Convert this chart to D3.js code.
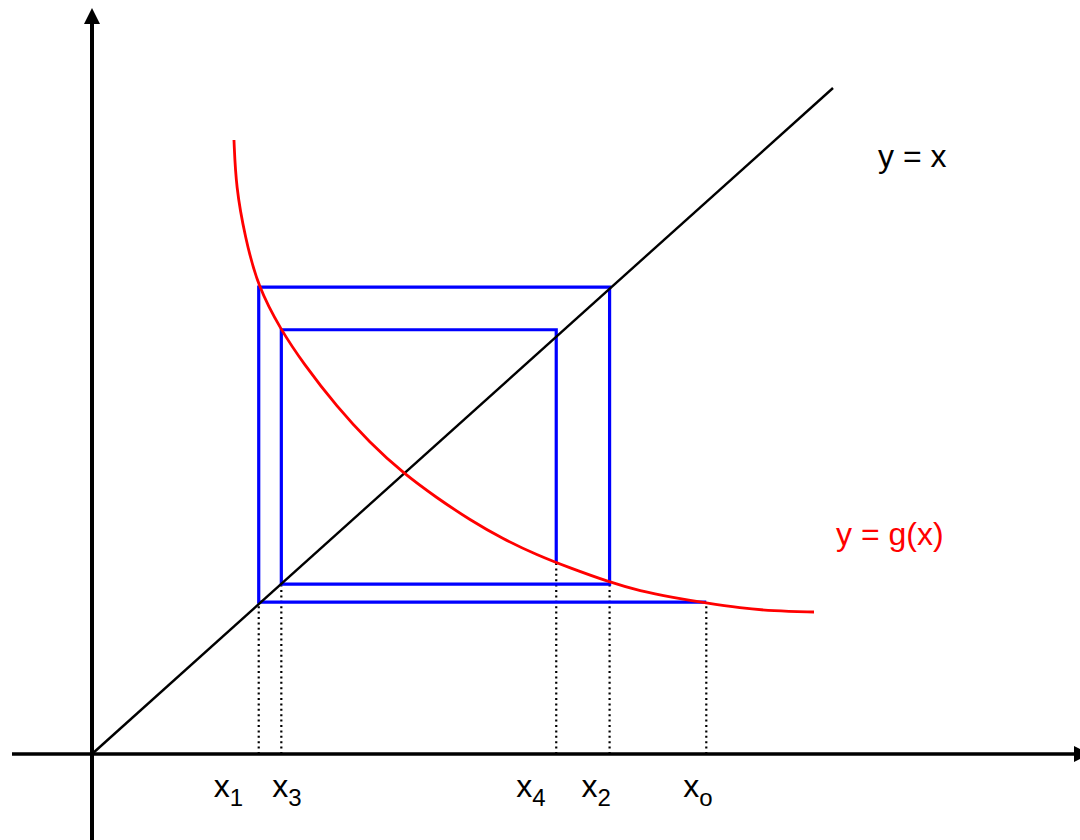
<!DOCTYPE html>
<html>
<head>
<meta charset="utf-8">
<script src="https://cdn.jsdelivr.net/npm/d3@7"></script>
<style>
  html, body { margin: 0; padding: 0; background: #fff; }
  svg { display: block; }
  text { font-family: "Liberation Sans", Arial, sans-serif; }
</style>
</head>
<body>
<svg id="chart" width="1080" height="840"></svg>
<script>
// ---- data (in chart units, where the diagonal is y = x) ----
const curveX = [0.1916, 0.1943, 0.2065, 0.2240, 0.2551, 0.2848, 0.3306, 0.3752, 0.4197, 0.4656, 0.5101,
                0.5547, 0.6005, 0.6451, 0.6977, 0.7395, 0.7841, 0.8286, 0.8745, 0.9190, 0.9744];
const curveY = [0.9219, 0.8514, 0.7763, 0.7012, 0.6366, 0.5871, 0.5210, 0.4670, 0.4219, 0.3844, 0.3514,
                0.3228, 0.2988, 0.2793, 0.2583, 0.2447, 0.2350, 0.2267, 0.2192, 0.2147, 0.2132];
// fixed-point iterates x0, x1, x2, x3, x4
const iterates = [0.829, 0.225, 0.6985, 0.2555, 0.6265];
// g(x_n) read at each iterate (heights of the cobweb's horizontal runs)
const gAtIterates = [0.228, 0.701, 0.255, 0.637, 0.288];
const iterateLabels = ["o", "1", "2", "3", "4"];
const diagonal = [0, 1];

// ---- layout ----
const W = 1080, H = 840;
const x = d3.scaleLinear().domain([0, 1]).range([92, 833]);
const y = d3.scaleLinear().domain([0, 1]).range([754, 88]);
const labelDx = [-23, -45, -28, -9, -40];

const svg = d3.select("#chart");

// axes with arrowheads
svg.append("line").attr("x1", x(0)).attr("x2", x(0)).attr("y1", 20).attr("y2", H)
  .attr("stroke", "#000").attr("stroke-width", 4);
svg.append("path").attr("d", `M${x(0)},8 L${x(0) - 8},24 L${x(0) + 8},24 Z`).attr("fill", "#000");
svg.append("line").attr("x1", 12).attr("x2", 1078).attr("y1", y(0)).attr("y2", y(0))
  .attr("stroke", "#000").attr("stroke-width", 3.5);
svg.append("path").attr("d", `M1090,${y(0)} L1074,${y(0) - 8} L1074,${y(0) + 8} Z`).attr("fill", "#000");

// dotted guides from axis up to the cobweb
const dotTop = iterates.map((v, i) => i === 0 ? gAtIterates[0] : Math.min(gAtIterates[i - 1], gAtIterates[i]));
svg.selectAll("line.guide").data(iterates).join("line").attr("class", "guide")
  .attr("x1", d => x(d)).attr("x2", d => x(d))
  .attr("y1", y(0)).attr("y2", (d, i) => y(dotTop[i]))
  .attr("stroke", "#000").attr("stroke-width", 2.2).attr("stroke-dasharray", "2,3.4");

// cobweb
const cob = [[iterates[0], gAtIterates[0]]];
for (let n = 1; n < iterates.length; n++) {
  cob.push([iterates[n], gAtIterates[n - 1]]);
  cob.push([iterates[n], gAtIterates[n]]);
}
svg.append("path").datum(cob)
  .attr("d", d3.line().x(d => x(d[0])).y(d => y(d[1])))
  .attr("fill", "none").attr("stroke", "#0000ff").attr("stroke-width", 3.2)
  .attr("stroke-linejoin", "miter");

// diagonal y = x
svg.append("line").attr("x1", x(diagonal[0])).attr("y1", y(diagonal[0]))
  .attr("x2", x(diagonal[1])).attr("y2", y(diagonal[1]))
  .attr("stroke", "#000").attr("stroke-width", 2.4);

// g(x) curve
const pts = curveX.map((v, i) => [v, curveY[i]]);
svg.append("path").datum(pts)
  .attr("d", d3.line().x(d => x(d[0])).y(d => y(d[1])).curve(d3.curveBasis))
  .attr("fill", "none").attr("stroke", "#ff0000").attr("stroke-width", 2.8);

// labels
svg.append("text").attr("x", 878).attr("y", 167).attr("font-size", 32).attr("fill", "#000").text("y = x");
svg.append("text").attr("x", 836).attr("y", 545).attr("font-size", 32).attr("fill", "#ff0000").text("y = g(x)");

const lab = svg.selectAll("text.xl").data(iterates).join("text").attr("class", "xl")
  .attr("x", (d, i) => x(d) + labelDx[i]).attr("y", 797).attr("font-size", 32).attr("fill", "#000");
lab.append("tspan").text("x");
lab.append("tspan").attr("dy", 9).attr("font-size", 24).text((d, i) => iterateLabels[i]);
</script>
</body>
</html>
